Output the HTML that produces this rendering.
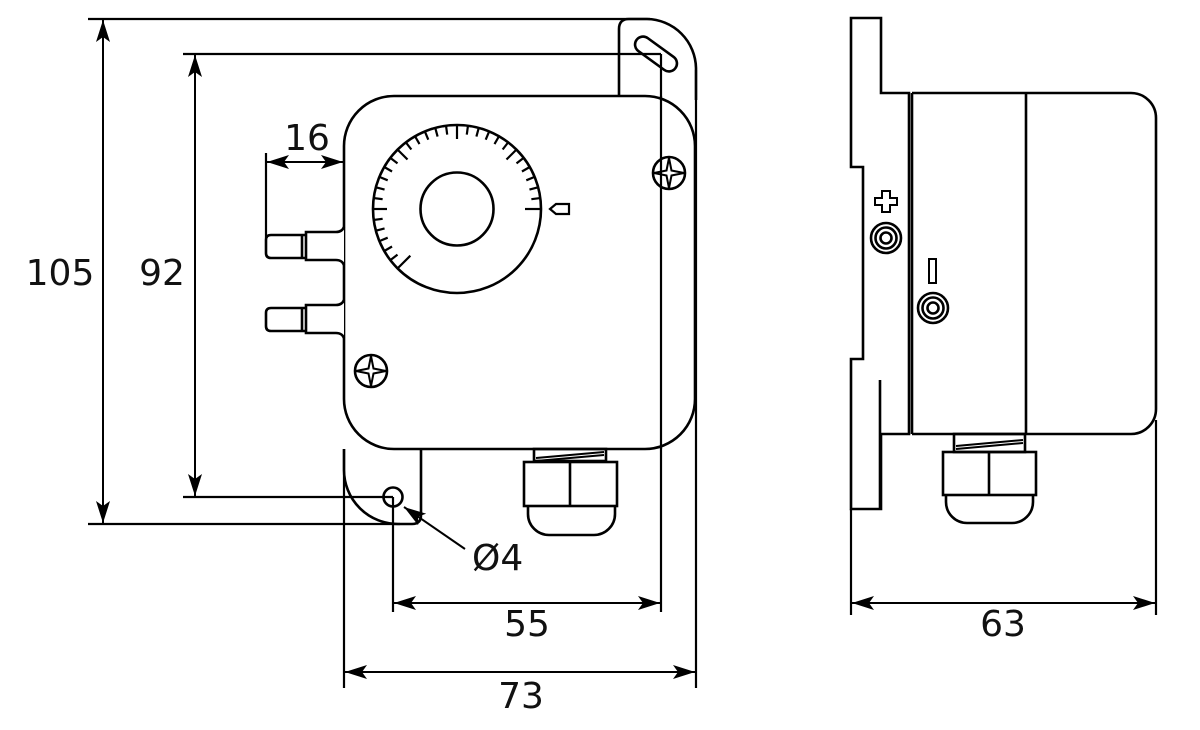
<!DOCTYPE html>
<html><head><meta charset="utf-8"><style>
html,body{margin:0;padding:0;background:#fff;}
svg{display:block;}
text{font-family:"DejaVu Sans","Liberation Sans",sans-serif;fill:#111;}
</style></head><body>
<svg width="1200" height="730" viewBox="0 0 1200 730" xmlns="http://www.w3.org/2000/svg">
<defs>
<marker id="a" viewBox="0 0 22 14" refX="22" refY="7" markerWidth="22" markerHeight="14" markerUnits="userSpaceOnUse" orient="auto-start-reverse">
<path d="M0,0 L22,7 L0,14 L5,7 Z" fill="#000"/>
</marker>
</defs>
<g fill="none" stroke="#000" stroke-width="2.6">
<!-- dimension extension lines -->
<line x1="88" y1="19" x2="650" y2="19" stroke-width="2.2"/>
<line x1="183" y1="54" x2="661" y2="54" stroke-width="2.2"/>
<line x1="661" y1="54" x2="661" y2="612" stroke-width="2.2"/>
<line x1="183" y1="497" x2="393" y2="497" stroke-width="2.2"/>
<line x1="393" y1="497" x2="393" y2="612" stroke-width="2.2"/>
<line x1="88" y1="524" x2="400" y2="524" stroke-width="2.2"/>
<line x1="344" y1="449" x2="344" y2="688" stroke-width="2.2"/>
<line x1="696" y1="70" x2="696" y2="688" stroke-width="2.2"/>
<line x1="266" y1="153" x2="266" y2="238" stroke-width="2.2"/>
<!-- dimension arrows -->
<line x1="103" y1="20" x2="103" y2="523" marker-start="url(#a)" marker-end="url(#a)" stroke-width="2"/>
<line x1="195" y1="55" x2="195" y2="496" marker-start="url(#a)" marker-end="url(#a)" stroke-width="2"/>
<line x1="267" y1="162" x2="343" y2="162" marker-start="url(#a)" marker-end="url(#a)" stroke-width="2"/>
<line x1="394" y1="603" x2="660" y2="603" marker-start="url(#a)" marker-end="url(#a)" stroke-width="2"/>
<line x1="345" y1="672" x2="695" y2="672" marker-start="url(#a)" marker-end="url(#a)" stroke-width="2"/>
<line x1="852" y1="603" x2="1155" y2="603" marker-start="url(#a)" marker-end="url(#a)" stroke-width="2"/>
<line x1="851" y1="509" x2="851" y2="615" stroke-width="2.2"/>
<line x1="1156" y1="420" x2="1156" y2="615" stroke-width="2.2"/>
<line x1="465" y1="549" x2="404" y2="507" marker-end="url(#a)" stroke-width="2"/>

<!-- mounting plate top -->
<path d="M619,96 L619,29 Q619,19 629,19 L647,19 A50,50 0 0 1 696,68 L696,100"/>
<g transform="translate(656,54) rotate(36)"><rect x="-24" y="-8" width="48" height="16" rx="8"/></g>
<!-- plate bottom -->
<path d="M344,449 L344,470 A54,54 0 0 0 398,524 L412,524 Q421,524 421,515 L421,449"/>
<circle cx="393" cy="497" r="9.5"/>

<!-- body -->
<rect x="344" y="96" width="351" height="353" rx="50" fill="#fff"/>
<line x1="661" y1="96" x2="661" y2="449" stroke-width="2.2"/>

<!-- tubes -->
<path d="M344,227 Q342,232 336,232 L306,232 L306,260 L336,260 Q342,260 344,265" fill="#fff"/>
<path d="M306,235 L271,235 Q266,235 266,240 L266,253 Q266,258 271,258 L306,258"/>
<line x1="302" y1="235" x2="302" y2="258"/>
<path d="M344,300 Q342,305 336,305 L306,305 L306,333 L336,333 Q342,333 344,338" fill="#fff"/>
<path d="M306,308 L271,308 Q266,308 266,313 L266,326 Q266,331 271,331 L306,331"/>
<line x1="302" y1="308" x2="302" y2="331"/>

<!-- dial -->
<circle cx="457" cy="209" r="84"/>
<circle cx="457" cy="209" r="36.5"/>
<g transform="translate(457,209)" stroke-width="2.2">
<line x1="68" y1="0" x2="84" y2="0" transform="rotate(0)"/>
<line x1="75" y1="0" x2="84" y2="0" transform="rotate(-7.5)"/>
<line x1="75" y1="0" x2="84" y2="0" transform="rotate(-15)"/>
<line x1="75" y1="0" x2="84" y2="0" transform="rotate(-22.5)"/>
<line x1="75" y1="0" x2="84" y2="0" transform="rotate(-30)"/>
<line x1="75" y1="0" x2="84" y2="0" transform="rotate(-37.5)"/>
<line x1="70" y1="0" x2="84" y2="0" transform="rotate(-45)"/>
<line x1="75" y1="0" x2="84" y2="0" transform="rotate(-52.5)"/>
<line x1="75" y1="0" x2="84" y2="0" transform="rotate(-60)"/>
<line x1="75" y1="0" x2="84" y2="0" transform="rotate(-67.5)"/>
<line x1="75" y1="0" x2="84" y2="0" transform="rotate(-75)"/>
<line x1="75" y1="0" x2="84" y2="0" transform="rotate(-82.5)"/>
<line x1="70" y1="0" x2="84" y2="0" transform="rotate(-90)"/>
<line x1="75" y1="0" x2="84" y2="0" transform="rotate(-97.5)"/>
<line x1="75" y1="0" x2="84" y2="0" transform="rotate(-105)"/>
<line x1="75" y1="0" x2="84" y2="0" transform="rotate(-112.5)"/>
<line x1="75" y1="0" x2="84" y2="0" transform="rotate(-120)"/>
<line x1="75" y1="0" x2="84" y2="0" transform="rotate(-127.5)"/>
<line x1="70" y1="0" x2="84" y2="0" transform="rotate(-135)"/>
<line x1="75" y1="0" x2="84" y2="0" transform="rotate(-142.5)"/>
<line x1="75" y1="0" x2="84" y2="0" transform="rotate(-150)"/>
<line x1="75" y1="0" x2="84" y2="0" transform="rotate(-157.5)"/>
<line x1="75" y1="0" x2="84" y2="0" transform="rotate(-165)"/>
<line x1="75" y1="0" x2="84" y2="0" transform="rotate(-172.5)"/>
<line x1="70" y1="0" x2="84" y2="0" transform="rotate(-180)"/>
<line x1="75" y1="0" x2="84" y2="0" transform="rotate(-187.5)"/>
<line x1="75" y1="0" x2="84" y2="0" transform="rotate(-195)"/>
<line x1="75" y1="0" x2="84" y2="0" transform="rotate(-202.5)"/>
<line x1="75" y1="0" x2="84" y2="0" transform="rotate(-210)"/>
<line x1="75" y1="0" x2="84" y2="0" transform="rotate(-217.5)"/>
<line x1="66" y1="0" x2="84" y2="0" transform="rotate(-225)"/>
</g>
<path d="M550,209 L556,204 L569,204 L569,214 L556,214 Z" stroke-width="2.2"/>

<!-- screws -->
<circle cx="669" cy="173" r="16"/>
<path d="M669,158 L671.5,170.5 L684,173 L671.5,175.5 L669,188 L666.5,175.5 L654,173 L666.5,170.5 Z" stroke-width="2"/>
<circle cx="371" cy="371" r="16"/>
<path d="M371,356 L373.5,368.5 L386,371 L373.5,373.5 L371,386 L368.5,373.5 L356,371 L368.5,368.5 Z" stroke-width="2"/>

<!-- front gland -->
<rect x="534" y="449" width="72" height="12"/>
<line x1="536" y1="458" x2="604" y2="452" stroke-width="2"/>
<line x1="536" y1="461" x2="604" y2="455" stroke-width="2"/>
<rect x="524" y="462" width="93" height="44"/>
<line x1="570" y1="462" x2="570" y2="506"/>
<path d="M528,506 L528,514 A21,21 0 0 0 549,535 L594,535 A21,21 0 0 0 615,514 L615,506"/>

<!-- side view -->
<path d="M851,18 L881,18 L881,93 L909,93 L909,434 L881,434 L881,509 L851,509 L851,359 L863,359 L863,167 L851,167 Z"/>
<line x1="880" y1="380" x2="880" y2="509"/>
<line x1="912" y1="93" x2="912" y2="434"/>
<path d="M912,93 L1131,93 A25,25 0 0 1 1156,118 L1156,409 A25,25 0 0 1 1131,434 L912,434"/>
<line x1="1026" y1="93" x2="1026" y2="434"/>
<path d="M875,198 L882,198 L882,191 L890,191 L890,198 L897,198 L897,205 L890,205 L890,212 L882,212 L882,205 L875,205 Z" stroke-width="2"/>
<circle cx="886" cy="238" r="15"/><circle cx="886" cy="238" r="10.5"/><circle cx="886" cy="238" r="5.5"/>
<rect x="929" y="259" width="7" height="24" stroke-width="2"/>
<circle cx="933" cy="308" r="15"/><circle cx="933" cy="308" r="10.5"/><circle cx="933" cy="308" r="5.5"/>
<rect x="954" y="434" width="71" height="18"/>
<line x1="956" y1="446" x2="1023" y2="440" stroke-width="2"/>
<line x1="956" y1="449" x2="1023" y2="443" stroke-width="2"/>
<rect x="943" y="452" width="93" height="43"/>
<line x1="989" y1="452" x2="989" y2="495"/>
<path d="M946,495 L946,502 A21,21 0 0 0 967,523 L1012,523 A21,21 0 0 0 1033,502 L1033,495"/>
</g>

<g font-size="36">
<text x="60" y="285" text-anchor="middle">105</text>
<text x="162" y="285" text-anchor="middle">92</text>
<text x="527" y="636" text-anchor="middle">55</text>
<text x="521" y="708" text-anchor="middle">73</text>
<text x="1003" y="636" text-anchor="middle">63</text>
<text x="307" y="150" text-anchor="middle">16</text>
<text x="472" y="570">Ø4</text>
</g>
</svg>
</body></html>
